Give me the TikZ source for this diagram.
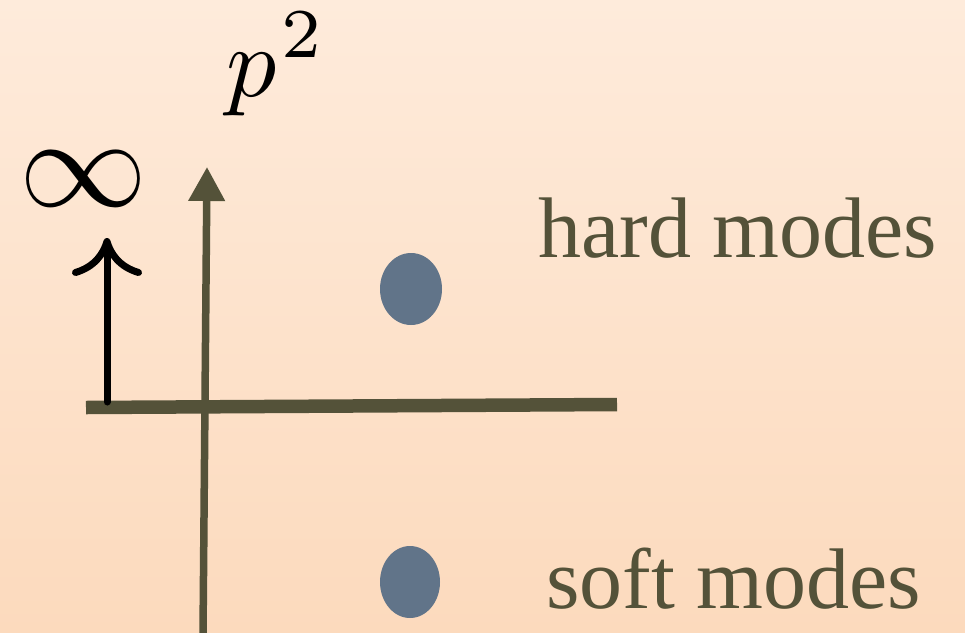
\documentclass[tikz,border=0pt]{standalone}
\usepackage{fontspec}
\setmainfont{Liberation Serif}
\newfontfamily\labelfont{Liberation Serif}
\usepackage{graphicx}
\usetikzlibrary{arrows.meta}
\definecolor{olive}{HTML}{545239}
\definecolor{dotblue}{HTML}{617489}
\definecolor{bgtop}{HTML}{FEEBDB}
\definecolor{bgbot}{HTML}{FCDABD}
\tikzset{
  axisline/.style={draw=olive, line width=7.5pt},
  modelabel/.style={anchor=base west, inner sep=0pt, text=olive, font=\labelfont\fontsize{86}{100}\selectfont},
  modedot/.style={fill=dotblue, draw=none},
}
\begin{document}
\begin{tikzpicture}[x=1pt,y=-1pt]
\shade[top color=bgtop, bottom color=bgbot] (0,0) rectangle (965,632);
\useasboundingbox (0,0) rectangle (965,632);
% axes coordinates
\coordinate (vbot) at (203,634);
\coordinate (vtop) at (207,167);
\coordinate (hl) at (86,407.5);
\coordinate (hr) at (617,404.5);
\coordinate (abot) at (107,402);
\coordinate (atop) at (107,238);
% vertical axis
\draw[axisline, -{Triangle[length=34pt,width=35pt]}] (vbot) -- (vtop);
% horizontal line
\draw[draw=olive, line width=13.5pt] (hl) -- (hr);
% black arrow
\draw[black, line width=7pt, line cap=round, -{Computer Modern Rightarrow[length=38pt,width=70pt,line width=7pt]}] (abot) -- (atop);
% labels
\node[inner sep=0pt] (inf) at (84,179) {\scalebox{12.8}{$\infty$}};
\node[anchor=base west, inner sep=0pt] (p) at (226,96) {\scalebox{10}{$p$}};
\node[anchor=base west, inner sep=0pt] (sq) at (281,57) {\scalebox{10}{$\scriptstyle 2$}};
% dots
\fill[modedot] (411,289) ellipse [x radius=31, y radius=36];
\fill[modedot] (410,582) ellipse [x radius=30, y radius=36];
\node[modelabel] (hard) at (538,257) {hard modes};
\node[modelabel] (soft) at (546,608) {soft modes};
\end{tikzpicture}
\end{document}
